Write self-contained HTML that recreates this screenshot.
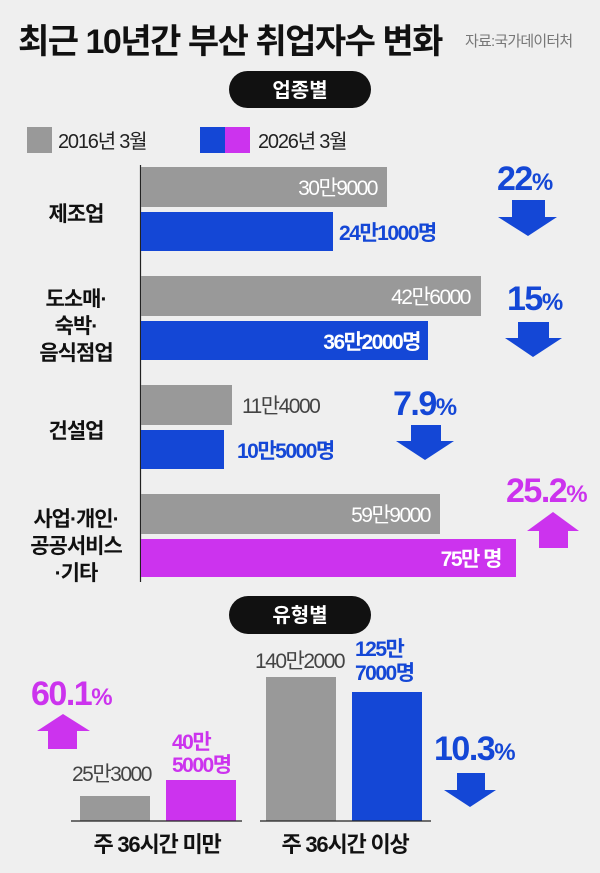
<!DOCTYPE html>
<html><head><meta charset="utf-8"><style>
html,body{margin:0;padding:0;background:#efefef;}
svg{display:block;font-family:"Liberation Sans","Noto Sans CJK KR",sans-serif;}
.b{font-weight:bold;}
</style></head><body>
<svg width="600" height="873" viewBox="0 0 600 873">
<rect width="600" height="873" fill="#efefef"/>
<text x="18" y="53" font-size="34" class="b" fill="#111" letter-spacing="-1.5">최근 10년간 부산 취업자수 변화</text>
<text x="465" y="46" font-size="15" fill="#777" letter-spacing="-0.8">자료:국가데이터처</text>
<rect x="229" y="71" width="142" height="37" rx="18.5" fill="#111"/>
<text x="300" y="97" font-size="20" class="b" fill="#fff" text-anchor="middle">업종별</text>
<rect x="27" y="127" width="25" height="26" fill="#999"/>
<text x="58" y="148" font-size="20" fill="#222" letter-spacing="-1.2">2016년 3월</text>
<rect x="200" y="127" width="25" height="26" fill="#1447d6"/>
<rect x="225" y="127" width="25" height="26" fill="#cc33ee"/>
<text x="258" y="148" font-size="20" fill="#222" letter-spacing="-1.2">2026년 3월</text>
<line x1="140.5" y1="165" x2="140.5" y2="582" stroke="#222" stroke-width="1.2"/>
<g font-size="21" letter-spacing="-1.5">
<rect x="141" y="167" width="246" height="40" fill="#999"/>
<text x="377" y="195" fill="#fff" text-anchor="end">30만9000</text>
<rect x="141" y="212" width="192" height="39" fill="#1447d6"/>
<text x="339" y="240" fill="#1447d6" class="b">24만1000명</text>
<rect x="141" y="276" width="340" height="40" fill="#999"/>
<text x="470" y="304" fill="#fff" text-anchor="end">42만6000</text>
<rect x="141" y="321" width="287" height="39" fill="#1447d6"/>
<text x="420" y="349" fill="#fff" class="b" text-anchor="end">36만2000명</text>
<rect x="141" y="385" width="91" height="40" fill="#999"/>
<text x="242" y="413" fill="#444">11만4000</text>
<rect x="141" y="430" width="83" height="39" fill="#1447d6"/>
<text x="237" y="458" fill="#1447d6" class="b">10만5000명</text>
<rect x="141" y="494" width="299" height="40" fill="#999"/>
<text x="430" y="522" fill="#fff" text-anchor="end">59만9000</text>
<rect x="141" y="539" width="375" height="38" fill="#cc33ee"/>
<text x="501" y="566" fill="#fff" class="b" text-anchor="end">75만 명</text>
</g>
<g font-size="21" class="b" fill="#111" text-anchor="middle" letter-spacing="-1">
<text x="76" y="221">제조업</text>
<text x="76" y="306">도소매·</text>
<text x="76" y="333">숙박·</text>
<text x="76" y="360">음식점업</text>
<text x="76" y="438">건설업</text>
<text x="76" y="526">사업·개인·</text>
<text x="76" y="553">공공서비스</text>
<text x="76" y="580">·기타</text>
</g>
<g class="b" letter-spacing="-1.5">
<text x="497" y="190" font-size="34" fill="#1447d6">22<tspan font-size="24">%</tspan></text>
<text x="507" y="310" font-size="34" fill="#1447d6">15<tspan font-size="24">%</tspan></text>
<text x="393" y="415" font-size="34" fill="#1447d6">7.9<tspan font-size="24">%</tspan></text>
<text x="506" y="502" font-size="34" fill="#cc33ee">25.2<tspan font-size="24">%</tspan></text>
<text x="31" y="705" font-size="34" fill="#cc33ee">60.1<tspan font-size="24">%</tspan></text>
<text x="434" y="760" font-size="34" fill="#1447d6">10.3<tspan font-size="24">%</tspan></text>
</g>
<polygon points="512,200 545,200 545,217 557,217 528,236 498,217 512,217" fill="#1447d6"/>
<polygon points="518,322 549,322 549,338 562,338 533,357 505,338 518,338" fill="#1447d6"/>
<polygon points="411,425 441,425 441,441 454,441 425,460 396,441 411,441" fill="#1447d6"/>
<polygon points="539,548 568,548 568,531 579,531 553,512 527,531 539,531" fill="#cc33ee"/>
<polygon points="48,749 77,749 77,731 90,731 63,714 37,731 48,731" fill="#cc33ee"/>
<polygon points="457,773 485,773 485,790 496,790 470,807 444,790 457,790" fill="#1447d6"/>
<rect x="229" y="596" width="142" height="38" rx="19" fill="#111"/>
<text x="300" y="622" font-size="20" class="b" fill="#fff" text-anchor="middle">유형별</text>
<rect x="80" y="796" width="70" height="25" fill="#999"/>
<rect x="166" y="780" width="70" height="41" fill="#cc33ee"/>
<rect x="266" y="677" width="70" height="144" fill="#999"/>
<rect x="352" y="692" width="70" height="129" fill="#1447d6"/>
<line x1="71" y1="821" x2="242" y2="821" stroke="#222" stroke-width="1.2"/>
<line x1="260" y1="821" x2="431" y2="821" stroke="#222" stroke-width="1.2"/>
<g font-size="21" letter-spacing="-1.5">
<text x="72" y="781" fill="#444">25만3000</text>
<text x="172" y="749" fill="#cc33ee" class="b">40만</text>
<text x="172" y="772" fill="#cc33ee" class="b">5000명</text>
<text x="255" y="668" fill="#444">140만2000</text>
<text x="355" y="656" fill="#1447d6" class="b">125만</text>
<text x="355" y="680" fill="#1447d6" class="b">7000명</text>
</g>
<g font-size="22" class="b" fill="#111" text-anchor="middle" letter-spacing="-1.2">
<text x="157" y="852">주 36시간 미만</text>
<text x="345" y="852">주 36시간 이상</text>
</g>
</svg>
</body></html>
